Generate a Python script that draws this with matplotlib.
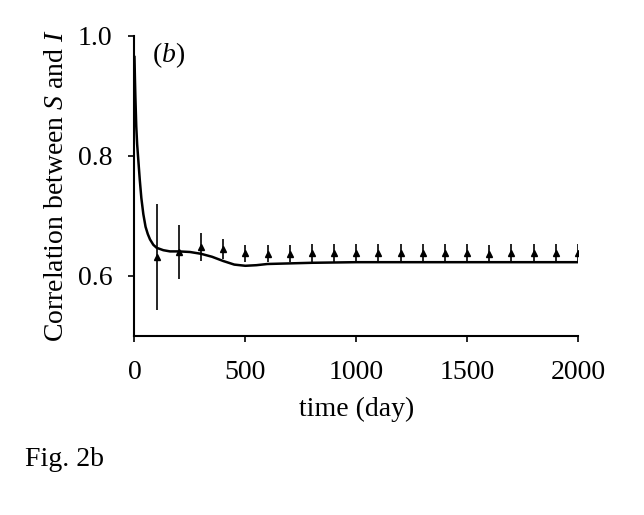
"""Fig. 2b: correlacion entre S e I a lo largo del tiempo."""

import matplotlib
matplotlib.use("Agg")
import matplotlib.pyplot as plt

plt.rcParams["font.family"] = ["Liberation Serif", "DejaVu Serif"]
plt.rcParams["mathtext.fontset"] = "custom"
plt.rcParams["mathtext.rm"] = "Liberation Serif"
plt.rcParams["mathtext.it"] = "Liberation Serif:italic"

# curva del modelo (leida a ojo de la figura)
t_curva = [0, 2, 4, 8, 12, 16, 24, 31, 40, 50, 60, 70, 85, 100, 130,
           160, 200, 250, 300, 350, 400, 450, 500, 550, 600, 700, 800,
           1000, 2000]
corr_curva = [0.965, 0.93, 0.90, 0.85, 0.82, 0.80, 0.76, 0.73, 0.703,
              0.682, 0.670, 0.661, 0.652, 0.647, 0.643, 0.641, 0.641,
              0.640, 0.637, 0.632, 0.625, 0.619, 0.617, 0.618, 0.620,
              0.621, 0.622, 0.623, 0.623]

# simulaciones: media y error
t_sim = list(range(100, 2001, 100))
corr_sim = [0.632, 0.640, 0.648, 0.645, 0.638, 0.637, 0.637, 0.638,
            0.638, 0.638, 0.638, 0.639, 0.638, 0.638, 0.638, 0.637,
            0.638, 0.638, 0.638, 0.639]
err_sim = [0.088, 0.045, 0.023, 0.016, 0.014, 0.014, 0.014, 0.015,
           0.015, 0.015, 0.015, 0.015, 0.015, 0.015, 0.015, 0.015,
           0.015, 0.015, 0.015, 0.015]

fig = plt.figure(figsize=(6.44, 5.15), dpi=100)
ax = fig.add_axes([0.2088, 0.3476, 0.6887, 0.5825])

ax.plot(t_curva, corr_curva, color="black", linewidth=1.8)
ax.errorbar(t_sim, corr_sim, yerr=err_sim, fmt="^", color="black",
            markersize=4.5, elinewidth=1.2, capsize=0)

ax.set_xlim(0, 2000)
ax.set_ylim(0.5, 1.0)
ax.set_xticks([0, 500, 1000, 1500, 2000])
ax.set_yticks([0.6, 0.8, 1.0])
ax.set_yticklabels(["0.6", "0.8", "1.0"])
for lado in ["top", "right"]:
    ax.spines[lado].set_visible(False)
for lado in ["left", "bottom"]:
    ax.spines[lado].set_linewidth(1.5)
ax.tick_params(direction="out", length=4, width=1.2, labelsize=20)
ax.tick_params(axis="x", pad=13)
ax.tick_params(axis="y", pad=12)

ax.set_xlabel("time (day)", fontsize=20, labelpad=9)
ax.set_ylabel(r"Correlation between $\mathit{S}$ and $\mathit{I}$",
              fontsize=20, labelpad=6)
ax.text(0.04, 0.985, r"($\mathit{b}$)", transform=ax.transAxes,
        fontsize=20, va="top", ha="left")

fig.text(25 / 644, 1 - 460 / 515, "Fig. 2b", fontsize=20,
         va="center", ha="left")

fig.savefig("out.png", dpi=100)
